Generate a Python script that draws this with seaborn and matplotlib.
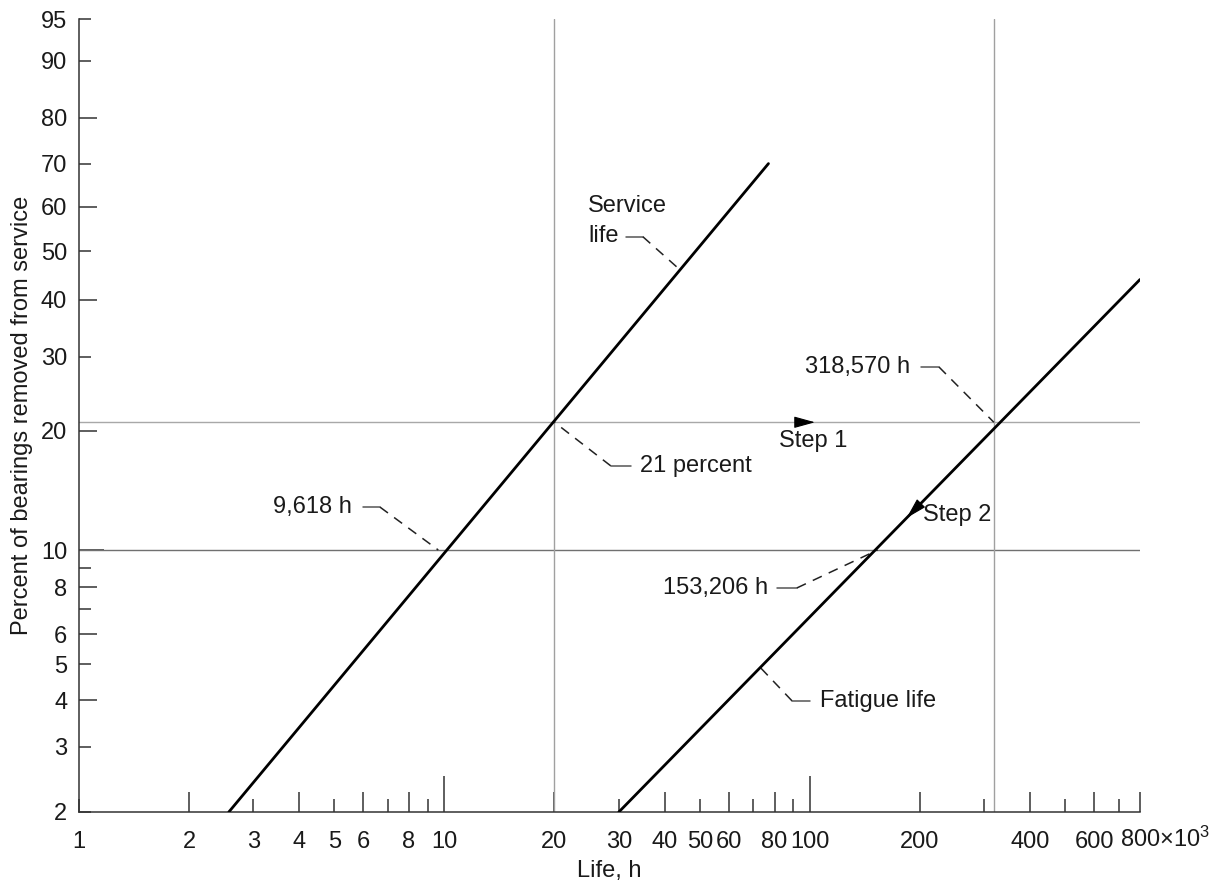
import numpy as np
import pandas as pd
import matplotlib
matplotlib.use("Agg")
import matplotlib.pyplot as plt
import matplotlib.transforms as mtransforms
import seaborn as sns

# ---------------- data (life in 10^3 h, percent removed) ----------------
service_life_h = [2.57, 77.0]
service_life_pct = [2.0, 70.0]
fatigue_life_h = [30.0, 800.0]
fatigue_life_pct = [2.0, 44.0]

ref_lives = [20.0, 318.570]      # vertical reference lines
ref_pcts = [21.0, 10.0]          # horizontal reference lines
service_l10 = 9.618
fatigue_l10 = 153.206
fatigue_at_21 = 318.570

x_major = [2, 4, 6, 8, 10, 20, 40, 60, 80, 100, 200, 400, 600, 800]
x_major_labels = ["2", "4", "6", "8", "10", "20", "40", "60", "80", "100",
                  "200", "400", "600", "800×10$^{3}$"]
x_minor = [1, 3, 5, 7, 9, 30, 50, 70, 90, 300, 500, 700]
x_minor_labels = ["1", "3", "5", "", "", "30", "50", "", "", "", "", ""]
y_major = [4, 6, 8, 10, 20, 40, 60, 80]
y_major_labels = ["4", "6", "8", "10", "20", "40", "60", "80"]
y_minor = [2, 3, 5, 7, 9, 30, 50, 70, 90, 95]
y_minor_labels = ["2", "3", "5", "", "", "30", "50", "70", "90", "95"]
longest_x = [10, 100]
longest_y = [10]


# ---------------- Weibull probability scale ----------------
def weib(p):
    p = np.clip(np.asarray(p, dtype=float), 1e-6, 100 - 1e-6)
    return np.log(-np.log(1 - p / 100.0))


def weib_inv(u):
    u = np.asarray(u, dtype=float)
    return 100.0 * (1 - np.exp(-np.exp(u)))


def on_line(xs, ps, p):
    u0, u1 = weib(ps)
    t = (weib(p) - u0) / (u1 - u0)
    return float(np.exp(np.log(xs[0]) + t * (np.log(xs[1]) - np.log(xs[0]))))


sns.set_theme(style="ticks")
plt.rcParams["font.family"] = ["Liberation Sans", "DejaVu Sans"]
plt.rcParams["mathtext.default"] = "regular"
TXT = "#1a1a1a"
FS = 17
TICKC = "#333333"

fig = plt.figure(figsize=(12.25, 8.86), dpi=100)
ax = fig.add_axes([79 / 1225, 74 / 886, 1061 / 1225, 793 / 886])

df = pd.DataFrame({
    "life": service_life_h + fatigue_life_h,
    "pct": service_life_pct + fatigue_life_pct,
    "curve": ["Service life"] * 2 + ["Fatigue life"] * 2,
})
sns.lineplot(data=df, x="life", y="pct", units="curve", estimator=None,
             sort=False, color="black", lw=2.0, ax=ax, legend=False, zorder=3)

ax.set_xscale("log")
ax.set_yscale("function", functions=(weib, weib_inv))
ax.set_xlim(1, 800)
ax.set_ylim(2, 95)

# reference lines
ax.axhline(ref_pcts[0], color="#a8a8a8", lw=1.0, zorder=1)
ax.axhline(ref_pcts[1], color="#707070", lw=1.0, zorder=1)
for xv in ref_lives:
    ax.axvline(xv, color="#a0a0a0", lw=1.0, zorder=1)

# axes styling
for s in ["top", "right"]:
    ax.spines[s].set_visible(False)
for s in ["left", "bottom"]:
    ax.spines[s].set_linewidth(1.1)
    ax.spines[s].set_color(TICKC)

ax.set_xticks(x_major, labels=x_major_labels)
ax.set_xticks(x_minor, labels=x_minor_labels, minor=True)
ax.set_yticks(y_major, labels=y_major_labels)
ax.set_yticks(y_minor, labels=y_minor_labels, minor=True)

common = dict(direction="in", width=1.1, color=TICKC, labelsize=FS, labelcolor=TXT)
ax.tick_params(axis="x", which="major", length=14.4, pad=14, bottom=True, top=False, **common)
ax.tick_params(axis="x", which="minor", length=9.4, pad=14, bottom=True, top=False, **common)
ax.tick_params(axis="y", which="major", length=13, pad=8.5, left=True, right=False, **common)
ax.tick_params(axis="y", which="minor", length=8.6, pad=8.5, left=True, right=False, **common)
for v, t in zip(x_major, ax.xaxis.get_major_ticks()):
    if v in longest_x:
        t.tick1line.set_markersize(26)
for v, t in zip(y_major, ax.yaxis.get_major_ticks()):
    if v in longest_y:
        t.tick1line.set_markersize(18)

# keep "800" centred on its tick, with the x10^3 factor trailing to the right
last = ax.xaxis.get_major_ticks()[-1].label1
last.set_horizontalalignment("left")
last.set_transform(last.get_transform() +
                   mtransforms.ScaledTranslation(-0.205, 0.045, fig.dpi_scale_trans))

ax.set_xlabel("Life, h", fontsize=FS, color=TXT)
ax.xaxis.set_label_coords(0.5, -0.061)
ax.set_ylabel("Percent of bearings removed from service", fontsize=FS, color=TXT)
ax.yaxis.set_label_coords(-0.0434, 0.5)

# ---------------- annotations ----------------
LEAD_SOLID = dict(color="#555555", lw=1.1, zorder=2)
LEAD_DASH = dict(color="#222222", lw=1.1, dashes=(6.5, 5), zorder=2)


def leader(solid, dashed):
    ax.plot(*zip(*solid), **LEAD_SOLID)
    ax.plot(*zip(*dashed), **LEAD_DASH)


def label(x, y, s, ha):
    ax.text(x, y, s, ha=ha, va="center", fontsize=FS, color=TXT)


# Service life
label(24.7, 60.2, "Service", "left")
label(24.7, 53.3, "life", "left")
sl_target = (on_line(service_life_h, service_life_pct, 46.0), 46.0)
leader([(31.4, 53.2), (34.9, 53.2)], [(34.9, 53.2), sl_target])

# 9,618 h
label(5.58, 12.9, "9,618 h", "right")
leader([(5.98, 12.9), (6.66, 12.9)], [(6.66, 12.9), (service_l10, ref_pcts[1])])

# 21 percent
label(34.3, 16.4, "21 percent", "left")
leader([(28.5, 16.4), (32.4, 16.4)], [(28.5, 16.4), (ref_lives[0], ref_pcts[0])])

# 318,570 h
label(187.8, 28.4, "318,570 h", "right")
leader([(201.2, 28.4), (225.4, 28.4)], [(225.4, 28.4), (fatigue_at_21, ref_pcts[0])])

# 153,206 h
label(76.8, 7.96, "153,206 h", "right")
leader([(81.2, 7.96), (92.1, 7.96)], [(92.1, 7.96), (fatigue_l10, ref_pcts[1])])

# Fatigue life
label(106.5, 3.99, "Fatigue life", "left")
fl_target = (on_line(fatigue_life_h, fatigue_life_pct, 4.9), 4.9)
leader([(89.3, 3.99), (100.0, 3.99)], [(89.3, 3.99), fl_target])

# Step arrows
ARROW = dict(arrowstyle="-|>,head_length=1.3,head_width=0.36", color="black",
             lw=0.8, shrinkA=0, shrinkB=0, mutation_scale=10)
ax.annotate("", xy=(103.2, ref_pcts[0]), xytext=(92.1, ref_pcts[0]),
            arrowprops=ARROW, zorder=4)
label(82.3, 18.9, "Step 1", "left")

tip_p, base_p = 12.1, 13.1
ax.annotate("", xy=(on_line(fatigue_life_h, fatigue_life_pct, tip_p), tip_p),
            xytext=(on_line(fatigue_life_h, fatigue_life_pct, base_p), base_p),
            arrowprops=ARROW, zorder=4)
label(203.8, 12.3, "Step 2", "left")

fig.savefig("out.png", dpi=100)
